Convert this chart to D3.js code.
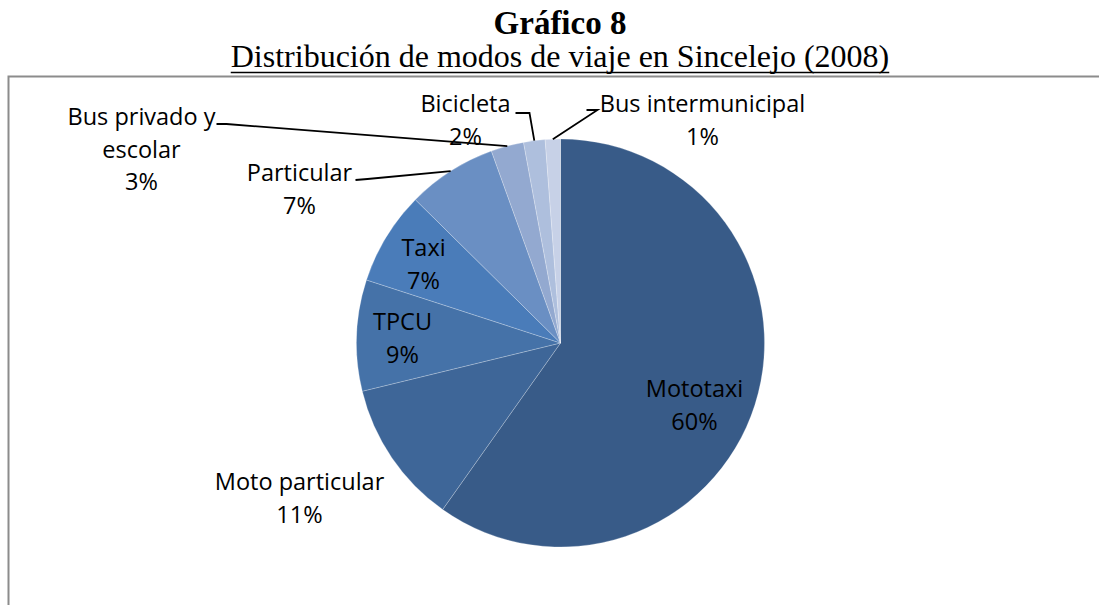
<!DOCTYPE html>
<html>
<head>
<meta charset="utf-8">
<script src="https://cdn.jsdelivr.net/npm/d3@7"></script>
<style>
  html, body { margin: 0; padding: 0; background: #fff; }
  svg { display: block; }
</style>
</head>
<body>
<svg id="chart" width="1099" height="605"></svg>
<script>
// ---- data ----
const categories = ["Mototaxi", "Moto particular", "TPCU", "Taxi", "Particular", "Bus privado y escolar", "Bicicleta", "Bus intermunicipal"];
const values = [59.8, 11.4, 8.8, 7.4, 7.1, 2.6, 1.7, 1.2];
const colors = ["#385b88", "#3e6698", "#4572a8", "#4a7cb9", "#6a8fc3", "#93a9d0", "#aebfdd", "#c7d1e7"];
const labelLines = [["Mototaxi"], ["Moto particular"], ["TPCU"], ["Taxi"], ["Particular"], ["Bus privado y", "escolar"], ["Bicicleta"], ["Bus intermunicipal"]];
const titleText = "Gráfico 8";
const subtitleText = "Distribución de modos de viaje en Sincelejo (2008)";

// ---- layout (not data) ----
const W = 1099, H = 605;
const cx = 560.5, cy = 343, R = 204;
// label anchor (center x, first baseline) relative to pie center; leader start points relative to pie center
const labelLayout = [
  { dx: 134, dy: 54 },
  { dx: -261, dy: 147 },
  { dx: -158, dy: -13 },
  { dx: -137, dy: -87 },
  { dx: -261, dy: -162, leader: [[-205, -163], [-193, -164]] },
  { dx: -419, dy: -218, leader: [[-344, -219], [-334, -219]] },
  { dx: -95, dy: -231, leader: [[-45, -230], [-31, -230]] },
  { dx: 142, dy: -231, leader: [[26, -233], [37, -233]] }
];
const lineH = 32.5;

const svg = d3.select("#chart");

// titles
svg.append("text")
  .attr("x", 560).attr("y", 34)
  .attr("text-anchor", "middle")
  .attr("font-family", "'Liberation Serif', 'Times New Roman', serif")
  .attr("font-weight", "bold")
  .attr("font-size", 33)
  .attr("fill", "#000")
  .text(titleText);

const sub = svg.append("text")
  .attr("x", 560).attr("y", 67)
  .attr("text-anchor", "middle")
  .attr("font-family", "'Liberation Serif', 'Times New Roman', serif")
  .attr("font-size", 32)
  .attr("fill", "#000")
  .text(subtitleText);
const sb = sub.node().getBBox();
svg.append("line")
  .attr("x1", sb.x).attr("x2", sb.x + sb.width)
  .attr("y1", 72.5).attr("y2", 72.5)
  .attr("stroke", "#000").attr("stroke-width", 1.5);

// chart border
svg.append("rect")
  .attr("x", 8.5).attr("y", 76.5)
  .attr("width", 1200).attr("height", 700)
  .attr("fill", "none")
  .attr("stroke", "#8c8c8c")
  .attr("stroke-width", 2);

// pie
const data = categories.map((c, i) => ({ name: c, value: values[i], i }));
const pie = d3.pie().value(d => d.value).sort(null);
const arcs = pie(data);
const arc = d3.arc().innerRadius(0).outerRadius(R);

const g = svg.append("g").attr("transform", `translate(${cx},${cy})`);
g.selectAll("path.slice")
  .data(arcs)
  .join("path")
  .attr("class", "slice")
  .attr("d", arc)
  .attr("fill", d => colors[d.data.i])
  .attr("stroke", "rgba(255,255,255,0.3)")
  .attr("stroke-width", 0.8);

const total = d3.sum(values);
const pctFmt = v => Math.round(v / total * 100) + "%";

// leader lines
arcs.forEach(d => {
  const L = labelLayout[d.data.i];
  if (!L.leader) return;
  const mid = (d.startAngle + d.endAngle) / 2;
  const end = [R * Math.sin(mid), -R * Math.cos(mid)];
  const pts = [...L.leader, end];
  g.append("path")
    .attr("d", d3.line()(pts))
    .attr("fill", "none")
    .attr("stroke", "#000")
    .attr("stroke-width", 1.8);
});

// labels
arcs.forEach(d => {
  const L = labelLayout[d.data.i];
  const lines = [...labelLines[d.data.i], pctFmt(d.data.value)];
  const t = g.append("text")
    .attr("text-anchor", "middle")
    .attr("font-family", "'Open Sans', 'Noto Sans', sans-serif")
    .attr("font-size", 23.5)
    .attr("fill", "#000");
  lines.forEach((s, k) => {
    t.append("tspan").attr("x", L.dx).attr("y", L.dy + k * lineH).text(s);
  });
});
</script>
</body>
</html>
